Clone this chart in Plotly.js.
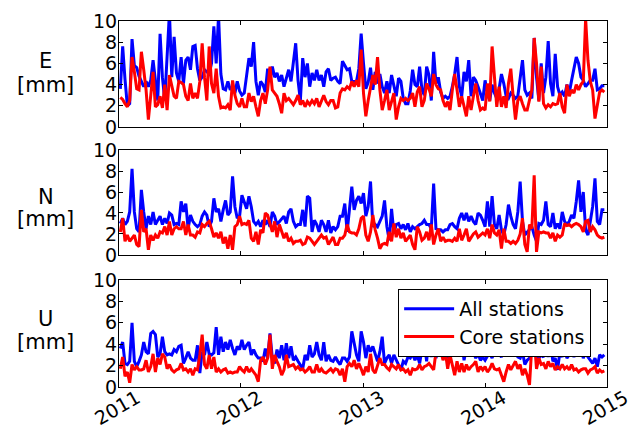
<!DOCTYPE html>
<html>
<head>
<meta charset="utf-8">
<script src="https://cdn.plot.ly/plotly-3.0.1.min.js"></script>
<style>
  html, body { margin: 0; padding: 0; background: #fff; }
  #chart { width: 633px; height: 429px; }
</style>
</head>
<body>
<div id="chart"></div>
<script>
// Weekly RMS of station residuals [mm], first week starting 2011-01-05.
const seriesNames = ['All stations', 'Core stations'];
const yearTicks = ['2011-01-01', '2012-01-01', '2013-01-01', '2014-01-01', '2015-01-01'];
const yearLabels = ['2011', '2012', '2013', '2014', '2015'];
const componentLabels = ['E', 'N', 'U'];

// East component
const eAll = [
  3.6, 7.6, 4.5, 2.0, 2.2, 8.3, 5.8, 5.6, 4.8, 4.3,
  3.8, 4.3, 3.8, 4.4, 6.3, 4.4, 2.5, 8.8, 4.7, 2.5,
  6.5, 10.8, 4.7, 8.5, 5.1, 4.3, 6.6, 4.1, 6.3, 6.6,
  5.4, 7.6, 7.7, 5.5, 4.4, 4.7, 5.4, 5.2, 5.0, 6.0,
  9.5, 6.0, 10.5, 5.0, 3.6, 3.5, 4.3, 3.5, 3.8, 3.2,
  4.3, 3.4, 3.0, 3.2, 5.0, 6.5, 5.7, 8.0, 4.3, 3.0,
  4.3, 4.0, 3.3, 5.5, 4.4, 5.7, 4.7, 5.1, 4.3, 4.9,
  3.8, 4.6, 5.4, 4.3, 6.0, 7.9, 4.4, 2.5, 6.5, 4.7,
  6.0, 3.8, 5.1, 4.4, 5.4, 4.4, 4.9, 3.8, 5.2, 5.5,
  4.4, 4.6, 4.7, 4.3, 4.1, 6.2, 5.8, 5.4, 5.5, 4.3,
  4.3, 4.3, 5.5, 8.8, 6.0, 3.6, 4.2, 5.6, 3.5, 5.2,
  4.1, 5.0, 3.8, 3.2, 4.3, 3.2, 4.9, 3.8, 2.9, 4.6,
  4.3, 2.7, 2.2, 2.2, 3.4, 5.4, 4.0, 3.8, 5.7, 3.5,
  3.0, 5.7, 4.9, 2.5, 7.1, 4.1, 4.7, 3.3, 2.7, 2.9,
  2.7, 2.9, 3.8, 5.0, 6.6, 3.8, 2.9, 5.2, 4.3, 6.3,
  2.9, 4.7, 4.4, 3.8, 3.2, 2.5, 4.4, 3.2, 2.5, 4.0,
  3.2, 2.7, 3.6, 5.0, 4.1, 2.9, 2.7, 3.2, 3.0, 2.7,
  2.9, 4.6, 6.3, 3.5, 3.0, 3.2, 2.7, 8.4, 4.7, 2.5,
  6.0, 3.2, 4.7, 8.1, 4.1, 2.9, 6.9, 3.8, 3.0, 3.3,
  2.9, 4.0, 3.2, 4.4, 5.4, 6.6, 6.0, 4.7, 4.4, 3.8,
  4.1, 4.4, 4.4, 5.5, 3.5, 3.6, 3.9, 3.9
];
const eCore = [
  2.8, 2.6, 2.2, 1.9, 2.5, 6.6, 5.2, 3.6, 3.5, 7.1,
  5.4, 3.5, 0.7, 3.2, 5.2, 1.9, 2.1, 2.9, 1.8, 4.0,
  1.6, 4.9, 4.0, 2.9, 2.7, 4.3, 4.2, 4.0, 2.9, 2.5,
  4.1, 2.7, 3.2, 2.7, 4.3, 7.9, 4.7, 2.5, 7.6, 4.1,
  3.2, 5.5, 2.9, 1.8, 1.9, 1.8, 2.1, 1.6, 4.4, 3.0,
  2.2, 1.9, 2.7, 1.9, 1.9, 3.2, 2.4, 2.9, 1.9, 1.0,
  2.5, 3.2, 2.2, 3.5, 5.7, 3.5, 3.2, 2.9, 2.2, 1.3,
  3.2, 2.5, 2.7, 2.4, 2.1, 2.5, 3.0, 2.1, 2.5, 1.9,
  2.4, 2.1, 2.5, 2.2, 2.7, 1.9, 2.4, 3.0, 2.4, 2.1,
  2.5, 2.5, 1.8, 1.9, 3.2, 3.6, 3.5, 3.8, 3.6, 4.3,
  3.8, 4.4, 3.8, 7.3, 3.2, 1.0, 2.5, 3.8, 4.9, 4.0,
  6.6, 3.5, 1.6, 2.5, 3.5, 1.6, 2.5, 3.2, 0.7, 1.9,
  2.7, 2.5, 2.7, 2.5, 2.7, 3.2, 1.9, 3.3, 3.8, 1.9,
  2.5, 4.1, 3.6, 2.9, 5.0, 4.0, 3.6, 3.5, 2.5, 1.9,
  2.4, 1.6, 3.5, 5.0, 3.5, 1.9, 2.9, 1.9, 1.0, 2.9,
  1.6, 2.9, 4.1, 2.5, 1.6, 1.8, 1.6, 4.1, 2.4, 7.6,
  4.7, 1.9, 3.8, 1.9, 2.9, 1.8, 4.1, 5.5, 2.9, 0.7,
  2.5, 2.9, 2.2, 1.6, 1.6, 2.5, 3.5, 8.4, 6.0, 2.4,
  5.7, 2.2, 1.8, 2.1, 1.9, 2.2, 2.1, 2.2, 3.2, 1.9,
  1.3, 4.0, 2.9, 3.5, 3.2, 4.0, 3.5, 4.0, 4.3, 10.2,
  6.3, 4.3, 3.5, 0.8, 1.9, 3.3, 3.5, 3.3
];

// North component
const nAll = [
  3.0, 3.5, 2.9, 3.2, 4.1, 8.2, 4.1, 2.5, 2.2, 6.2,
  4.1, 2.5, 3.7, 2.9, 4.1, 2.9, 3.3, 3.7, 2.9, 3.5,
  3.0, 4.0, 3.8, 2.9, 3.0, 2.9, 5.1, 4.1, 4.9, 2.5,
  3.8, 3.2, 2.9, 2.7, 2.9, 3.7, 4.1, 3.8, 2.7, 3.2,
  5.4, 4.1, 4.4, 3.2, 4.3, 5.2, 3.8, 4.1, 7.5, 4.6,
  3.5, 3.7, 5.7, 5.1, 4.4, 5.6, 4.6, 3.2, 2.9, 3.2,
  2.7, 3.3, 2.9, 3.3, 2.7, 4.1, 3.7, 2.9, 3.2, 3.5,
  3.7, 3.0, 4.1, 4.4, 3.2, 2.7, 2.9, 2.9, 4.3, 2.7,
  5.6, 5.4, 2.2, 3.3, 2.9, 2.2, 3.3, 2.9, 2.2, 3.3,
  2.1, 2.7, 2.4, 2.7, 3.7, 3.7, 4.9, 2.2, 4.1, 6.5,
  4.3, 5.2, 5.6, 4.9, 5.9, 3.7, 4.6, 7.0, 2.7, 2.9,
  2.7, 3.3, 3.7, 5.2, 2.7, 1.4, 4.4, 2.1, 2.9, 3.0,
  2.5, 2.9, 2.4, 3.0, 2.2, 2.7, 2.5, 2.7, 2.9, 3.0,
  3.3, 2.9, 2.9, 2.5, 6.8, 2.5, 2.4, 2.4, 2.2, 2.4,
  2.4, 2.9, 3.0, 2.7, 2.5, 3.5, 4.0, 3.3, 4.0, 3.2,
  3.7, 3.2, 2.9, 4.0, 3.8, 3.3, 2.7, 5.1, 2.7, 5.6,
  2.9, 2.5, 3.8, 2.4, 1.9, 2.9, 4.8, 3.7, 2.9, 2.5,
  4.1, 7.0, 3.2, 1.9, 2.2, 2.4, 2.7, 1.9, 1.3, 3.0,
  2.9, 3.3, 5.1, 2.9, 2.7, 4.0, 2.5, 3.0, 2.5, 4.1,
  3.2, 2.9, 3.2, 3.8, 3.5, 5.1, 7.1, 4.1, 6.0, 2.4,
  1.9, 3.2, 4.6, 7.3, 3.2, 2.9, 4.3, 4.3
];
const nCore = [
  2.2, 3.5, 1.3, 1.9, 1.3, 1.6, 1.9, 1.0, 0.8, 4.3,
  2.2, 2.5, 0.5, 1.9, 1.4, 1.9, 1.6, 2.2, 2.1, 2.7,
  1.9, 3.2, 1.9, 2.5, 2.7, 2.5, 2.5, 3.2, 1.9, 2.9,
  1.9, 1.9, 1.7, 2.2, 2.1, 2.9, 2.7, 3.0, 3.2, 2.5,
  1.7, 2.1, 1.6, 2.2, 1.1, 1.7, 0.6, 1.9, 0.5, 2.7,
  2.9, 3.7, 2.9, 3.0, 2.9, 3.3, 1.6, 1.3, 2.2, 1.0,
  2.4, 2.1, 4.0, 3.8, 3.0, 2.2, 3.2, 1.7, 2.9, 2.2,
  1.6, 2.1, 1.3, 1.6, 1.1, 1.3, 1.3, 1.4, 1.0, 1.1,
  1.7, 1.6, 1.3, 1.0, 1.3, 1.6, 1.9, 1.6, 1.7, 1.0,
  1.3, 1.7, 1.0, 1.0, 1.6, 1.6, 1.9, 2.9, 2.2, 2.1,
  2.1, 1.9, 2.5, 3.5, 3.7, 1.9, 1.3, 2.2, 3.8, 2.4,
  1.6, 0.6, 1.0, 1.1, 1.0, 2.2, 1.3, 3.0, 1.7, 2.5,
  1.6, 2.1, 1.3, 1.6, 1.9, 1.0, 0.5, 2.7, 2.2, 1.4,
  1.6, 2.2, 1.4, 2.9, 1.0, 1.9, 2.5, 1.3, 1.7, 1.3,
  1.4, 1.4, 1.3, 1.6, 1.3, 2.5, 1.4, 1.9, 2.5, 1.3,
  1.7, 2.0, 2.2, 1.7, 1.9, 2.1, 1.9, 2.5, 1.6, 2.9,
  2.1, 1.9, 2.4, 0.6, 2.5, 1.3, 1.3, 1.1, 1.3, 1.1,
  1.4, 2.0, 3.5, 1.0, 0.3, 2.9, 2.5, 7.6, 0.3, 2.2,
  2.1, 2.2, 2.1, 2.1, 1.6, 2.1, 1.3, 1.9, 1.7, 1.9,
  3.0, 2.8, 2.9, 2.7, 2.9, 3.0, 2.9, 2.7, 2.2, 3.2,
  3.3, 2.2, 2.7, 2.4, 1.9, 1.7, 1.6, 1.7
];

// Up component
const uAll = [
  3.6, 4.2, 2.2, 2.1, 2.4, 6.0, 2.4, 1.9, 2.4, 3.0,
  4.2, 3.3, 3.1, 5.0, 5.2, 4.9, 2.8, 3.1, 4.7, 3.3,
  3.0, 3.1, 3.0, 3.5, 3.3, 3.8, 3.9, 2.2, 2.7, 3.3,
  2.7, 2.5, 2.5, 3.9, 1.3, 3.3, 3.0, 4.2, 3.1, 3.0,
  3.2, 5.6, 3.0, 4.7, 3.3, 4.2, 3.5, 4.4, 3.6, 3.0,
  3.8, 3.5, 4.4, 3.5, 3.9, 4.2, 3.0, 3.5, 3.0, 2.7,
  2.7, 2.4, 3.6, 2.7, 5.0, 2.7, 2.2, 3.5, 2.7, 3.9,
  2.5, 4.1, 2.7, 3.8, 2.5, 2.8, 2.4, 2.1, 1.7, 3.0,
  2.5, 3.9, 2.8, 3.1, 4.2, 3.0, 2.5, 4.2, 2.4, 3.0,
  2.5, 2.4, 2.8, 2.4, 2.1, 2.7, 2.7, 2.4, 2.8, 5.2,
  3.9, 3.0, 2.4, 5.2, 4.2, 2.7, 3.9, 3.3, 3.8, 3.1,
  2.4, 3.3, 4.7, 2.2, 2.7, 3.0, 2.2, 3.0, 2.5, 2.1,
  1.6, 2.4, 2.2, 2.8, 2.7, 3.1, 2.5, 3.0, 2.2, 3.5,
  4.2, 2.4, 5.0, 2.8, 4.1, 2.7, 3.6, 3.4, 3.1, 3.3,
  2.7, 3.8, 3.3, 3.6, 3.0, 4.1, 4.4, 2.5, 3.6, 3.9,
  3.0, 3.3, 2.7, 3.1, 2.5, 2.8, 2.5, 2.9, 3.1, 2.7,
  3.3, 4.1, 3.1, 2.8, 3.5, 3.0, 3.3, 3.9, 3.1, 3.6,
  2.8, 2.7, 3.3, 2.1, 2.5, 2.7, 3.9, 4.4, 2.8, 2.7,
  3.0, 2.8, 3.8, 2.8, 3.9, 2.4, 2.7, 1.6, 3.3, 2.8,
  3.8, 2.7, 3.0, 3.6, 2.8, 3.5, 3.0, 3.6, 2.7, 3.3,
  2.8, 2.5, 2.2, 2.7, 1.9, 3.0, 2.8, 3.0
];
const uCore = [
  1.7, 2.8, 1.0, 1.4, 0.4, 2.1, 1.6, 1.9, 1.6, 1.6,
  1.7, 2.5, 1.4, 1.9, 3.1, 1.4, 2.7, 2.1, 3.1, 2.8,
  1.7, 2.1, 1.6, 1.4, 1.6, 1.7, 2.2, 1.6, 1.7, 1.4,
  1.7, 1.1, 1.7, 1.6, 3.0, 4.9, 2.1, 1.7, 3.0, 1.7,
  2.8, 1.4, 1.7, 1.4, 1.6, 1.7, 1.3, 1.4, 1.3, 1.4,
  1.4, 1.9, 1.6, 1.4, 1.9, 1.4, 1.7, 1.4, 1.1, 0.5,
  2.5, 2.8, 2.1, 2.7, 4.9, 1.7, 3.0, 2.4, 1.9, 1.1,
  1.6, 3.0, 1.9, 2.0, 2.1, 1.7, 1.9, 1.6, 1.7, 1.4,
  1.6, 1.9, 1.4, 1.4, 2.1, 1.4, 1.7, 1.4, 1.3, 1.5,
  1.7, 1.4, 1.7, 1.6, 1.1, 1.7, 0.5, 1.9, 2.2, 1.9,
  2.5, 1.7, 2.2, 1.7, 1.1, 1.9, 1.4, 3.1, 1.6, 1.3,
  1.9, 2.7, 2.1, 2.1, 1.8, 1.6, 2.1, 1.9, 1.7, 2.1,
  1.6, 1.7, 1.4, 1.6, 1.1, 1.7, 1.6, 1.7, 2.1, 1.6,
  1.9, 2.0, 2.2, 1.9, 1.6, 3.3, 3.0, 3.5, 2.5, 3.3,
  1.7, 3.0, 2.1, 1.1, 2.4, 1.4, 2.2, 1.4, 2.1, 1.6,
  1.9, 2.1, 2.4, 1.4, 1.9, 1.6, 1.9, 1.4, 1.7, 2.2,
  1.7, 1.6, 1.7, 1.1, 0.5, 1.4, 2.1, 1.6, 2.0, 2.4,
  1.7, 2.1, 1.1, 1.7, 1.1, 0.2, 3.9, 4.6, 1.7, 2.7,
  2.1, 2.2, 1.7, 2.4, 1.9, 2.2, 1.6, 1.9, 1.7, 2.1,
  1.7, 1.9, 1.6, 2.1, 1.6, 1.7, 1.4, 1.6, 1.7, 1.7,
  1.3, 1.6, 1.7, 1.9, 1.3, 1.6, 1.4, 1.5
];

// Weekly epochs
const firstWeek = Date.UTC(2011, 0, 5);
const weekDates = eAll.map((_, i) =>
  new Date(firstWeek + i * 7 * 86400000).toISOString().slice(0, 10));

const BLUE = '#0000ff';
const RED = '#ff0000';
const FONT = 'DejaVu Sans, Liberation Sans, sans-serif';

const panels = [
  { all: eAll, core: eCore, x: 'x',  y: 'y'  },
  { all: nAll, core: nCore, x: 'x2', y: 'y2' },
  { all: uAll, core: uCore, x: 'x3', y: 'y3' }
];

const traces = [];
panels.forEach((p, k) => {
  traces.push({
    x: weekDates, y: p.all, xaxis: p.x, yaxis: p.y,
    type: 'scatter', mode: 'lines', name: seriesNames[0],
    line: { color: BLUE, width: 3 },
    legendgroup: 'all', showlegend: k === 0
  });
  traces.push({
    x: weekDates, y: p.core, xaxis: p.x, yaxis: p.y,
    type: 'scatter', mode: 'lines', name: seriesNames[1],
    line: { color: RED, width: 3 },
    legendgroup: 'core', showlegend: k === 0
  });
});

function xAxis(anchor, showLabels) {
  return {
    anchor: anchor, domain: [0, 1],
    type: 'date',
    range: ['2011-01-01', '2015-01-01'],
    tickvals: yearTicks, ticktext: yearLabels,
    showticklabels: showLabels,
    tickangle: -30,
    ticklabelshift: 18,
    ticklabelstandoff: -8,
    ticklabeloverflow: 'allow',
    ticks: 'inside', ticklen: 4, tickwidth: 1, tickcolor: '#000',
    mirror: 'allticks', showline: true, linecolor: '#000', linewidth: 1,
    showgrid: false, zeroline: false,
    tickfont: { family: FONT, size: 19, color: '#000' }
  };
}
function yAxis(anchor, domain) {
  return {
    anchor: anchor, domain: domain,
    range: [0, 10], tickvals: [0, 2, 4, 6, 8, 10],
    ticklabelstandoff: -3,
    ticks: 'inside', ticklen: 4, tickwidth: 1, tickcolor: '#000',
    mirror: 'allticks', showline: true, linecolor: '#000', linewidth: 1,
    showgrid: false, zeroline: false,
    tickfont: { family: FONT, size: 19, color: '#000' }
  };
}

// Component labels to the left of each panel
const labelY = [[0.8907, 0.8251], [0.519, 0.459], [0.186, 0.123]];
const annotations = [];
componentLabels.forEach((c, k) => {
  annotations.push({
    text: c, xref: 'paper', yref: 'paper', x: -0.150, y: labelY[k][0],
    xanchor: 'center', yanchor: 'middle', showarrow: false,
    font: { family: FONT, size: 21, color: '#000' }
  });
  annotations.push({
    text: '[mm]', xref: 'paper', yref: 'paper', x: -0.150, y: labelY[k][1],
    xanchor: 'center', yanchor: 'middle', showarrow: false,
    font: { family: FONT, size: 21, color: '#000' }
  });
});

const layout = {
  width: 633, height: 429,
  margin: { l: 119, r: 26, t: 21, b: 42 },
  paper_bgcolor: '#fff', plot_bgcolor: '#fff',
  font: { family: FONT, color: '#000' },
  xaxis: xAxis('y', false),
  xaxis2: xAxis('y2', false),
  xaxis3: xAxis('y3', true),
  yaxis: yAxis('x', [0.7104, 1.0]),
  yaxis2: yAxis('x2', [0.3607, 0.6475]),
  yaxis3: yAxis('x3', [0.0, 0.2923]),
  showlegend: true,
  legend: {
    x: 0.572, y: 0.268, xanchor: 'left', yanchor: 'top',
    bgcolor: '#fff', bordercolor: '#000', borderwidth: 1,
    font: { family: FONT, size: 19, color: '#000' },
    itemwidth: 50,
    tracegroupgap: 0
  },
  annotations: annotations
};

Plotly.newPlot('chart', traces, layout, { staticPlot: true, displayModeBar: false });
</script>
</body>
</html>
